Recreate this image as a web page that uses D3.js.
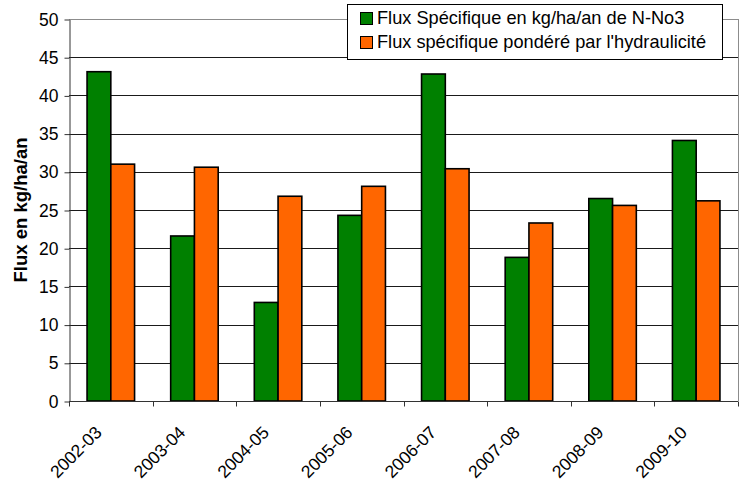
<!DOCTYPE html>
<html>
<head>
<meta charset="utf-8">
<script src="https://cdn.jsdelivr.net/npm/d3@7"></script>
<style>
  html, body { margin: 0; padding: 0; background: #fff; }
  svg { display: block; font-family: "Liberation Sans", Arial, sans-serif; }
</style>
</head>
<body>
<svg id="chart" width="746" height="482"></svg>
<script>
// Campaign years
const categories = ["2002-03", "2003-04", "2004-05", "2005-06", "2006-07", "2007-08", "2008-09", "2009-10"];
// Specific N-NO3 flux (kg/ha/yr)
const fluxSpecifique = [43.1, 21.6, 12.9, 24.3, 42.8, 18.8, 26.5, 34.1];
// Specific flux weighted by hydraulicity
const fluxPondere = [31.0, 30.6, 26.8, 28.1, 30.4, 23.3, 25.6, 26.2];
const seriesNames = ["Flux Spécifique en kg/ha/an de N-No3", "Flux spécifique pondéré par l'hydraulicité"];
const seriesColors = ["#008000", "#ff6600"];
const yTicks = [0, 5, 10, 15, 20, 25, 30, 35, 40, 45, 50];

const svg = d3.select("#chart");
const plotLeft = 69, plotRight = 738, plotTop = 19, plotBottom = 401;
const font = "'Liberation Sans', Arial, sans-serif";

const x = d3.scaleBand().domain(categories).range([plotLeft, plotRight]).paddingInner(0).paddingOuter(0);
const xInner = d3.scaleBand().domain([0, 1]).range([0, x.bandwidth()]).paddingInner(0).paddingOuter(0.76);
const y = d3.scaleLinear().domain([0, 50]).range([plotBottom, plotTop]);

// Horizontal gridlines
svg.append("g").selectAll("line").data(yTicks.filter(d => d > 0)).join("line")
  .attr("x1", plotLeft).attr("x2", plotRight)
  .attr("y1", d => Math.round(y(d)) + 0.5).attr("y2", d => Math.round(y(d)) + 0.5)
  .attr("stroke", d => d === 50 ? "#8c8c8c" : "#1a1a1a").attr("stroke-width", 1);

// Right border of plot area
svg.append("line").attr("x1", plotRight + 0.5).attr("x2", plotRight + 0.5)
  .attr("y1", plotTop).attr("y2", plotBottom).attr("stroke", "#8c8c8c");

// Bars
const series = [fluxSpecifique, fluxPondere];
series.forEach((vals, si) => {
  svg.append("g").selectAll("rect").data(vals).join("rect")
    .attr("x", (d, i) => x(categories[i]) + xInner(si))
    .attr("width", xInner.bandwidth())
    .attr("y", d => y(d))
    .attr("height", d => y(0) - y(d))
    .attr("fill", seriesColors[si])
    .attr("stroke", "#000").attr("stroke-width", 1.6);
});

// Y axis
const yAxis = d3.axisLeft(y).tickValues(yTicks).tickSize(5).tickSizeOuter(0);
const gy = svg.append("g").attr("transform", `translate(${plotLeft + 0.5},0.5)`).call(yAxis);
gy.select(".domain").attr("stroke", "#333");
gy.selectAll(".tick line").attr("stroke", "#333");
gy.selectAll(".tick text").attr("font-size", 17.5).attr("fill", "#000").attr("x", -11)
  .attr("font-family", font);

// X axis: baseline plus ticks at category boundaries
const gx = svg.append("g").attr("transform", `translate(0,${plotBottom + 0.5})`);
gx.append("line").attr("x1", plotLeft).attr("x2", plotRight).attr("stroke", "#333");
const bounds = categories.map(c => x(c)).concat([plotRight]);
gx.selectAll("line.tk").data(bounds).join("line").attr("class", "tk")
  .attr("x1", d => Math.round(d) + 0.5).attr("x2", d => Math.round(d) + 0.5)
  .attr("y1", 0).attr("y2", 5).attr("stroke", "#333");
gx.selectAll("text").data(categories).join("text")
  .attr("transform", d => `translate(${x(d) + x.bandwidth() / 2 - 8},${32}) rotate(-45)`)
  .attr("text-anchor", "end")
  .attr("font-size", 17.5)
  .text(d => d);

// Y axis title
svg.append("text")
  .attr("transform", `translate(27,${(plotTop + plotBottom) / 2}) rotate(-90)`)
  .attr("text-anchor", "middle")
  .attr("font-size", 18.5).attr("font-weight", "bold")
  .text("Flux en kg/ha/an");

// Legend
const lg = svg.append("g");
lg.append("rect").attr("x", 347.5).attr("y", 4.5).attr("width", 375).attr("height", 55)
  .attr("fill", "#fff").attr("stroke", "#000");
seriesNames.forEach((name, i) => {
  const base = 24 + i * 24;
  lg.append("rect").attr("x", 360.5).attr("y", base - 11.5).attr("width", 12).attr("height", 12)
    .attr("fill", seriesColors[i]).attr("stroke", "#000");
  lg.append("text").attr("x", 377).attr("y", base).attr("font-size", 18.2).text(name);
});
</script>
</body>
</html>
